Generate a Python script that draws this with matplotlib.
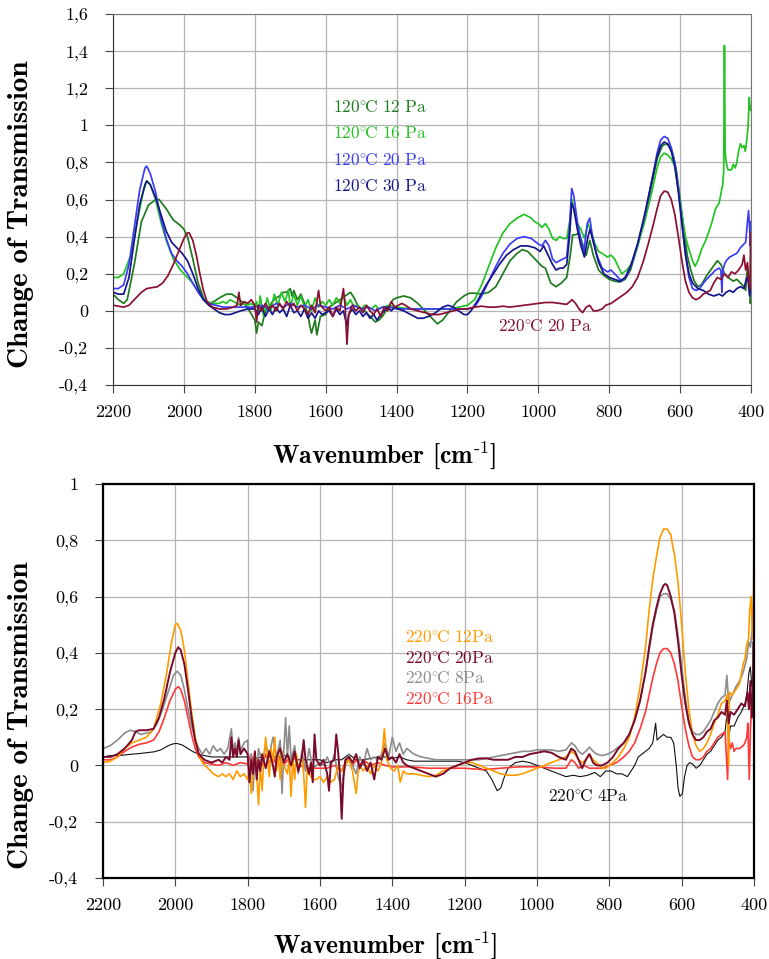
import matplotlib
matplotlib.use('Agg')
import matplotlib.pyplot as plt

plt.rcParams['font.family'] = ['cmr10', 'DejaVu Serif']
plt.rcParams['mathtext.fontset'] = 'cm'
plt.rcParams['axes.unicode_minus'] = False

# ---- top panel: (wavenumber, change of transmission) ----
t120_12 = [(2200, 0.09), (2185, 0.06), (2170, 0.04), (2160, 0.06), (2140, 0.25), (2120, 0.48), (2100, 0.57),
           (2080, 0.60), (2070, 0.60), (2050, 0.55), (2030, 0.49), (2010, 0.46), (2000, 0.44), (1990, 0.40),
           (1975, 0.28), (1960, 0.15), (1945, 0.07), (1930, 0.04), (1915, 0.05), (1900, 0.07), (1880, 0.09),
           (1865, 0.09), (1850, 0.07), (1830, 0.04), (1815, 0.0), (1800, -0.05), (1795, -0.12), (1790, -0.06),
           (1780, -0.08), (1770, 0.0), (1760, 0.02), (1750, 0.05), (1740, 0.07), (1730, 0.08), (1720, 0.10),
           (1710, 0.10), (1700, 0.12), (1695, 0.08), (1690, 0.11), (1680, 0.06), (1670, 0.09), (1660, 0.04),
           (1650, -0.02), (1645, -0.08), (1640, -0.12), (1630, -0.05), (1625, -0.13), (1615, -0.03),
           (1600, -0.02), (1590, 0.02), (1575, 0.04), (1560, 0.06), (1545, 0.08), (1530, 0.10), (1520, 0.07),
           (1510, 0.03), (1500, 0.01), (1490, 0.0), (1480, -0.02), (1470, -0.04), (1460, -0.06), (1450, -0.05),
           (1440, -0.03), (1430, 0.0), (1420, 0.03), (1410, 0.06), (1400, 0.07), (1380, 0.08), (1360, 0.07),
           (1340, 0.04), (1320, 0.0), (1300, -0.04), (1285, -0.07), (1270, -0.05), (1250, 0.0), (1230, 0.05),
           (1210, 0.08), (1195, 0.095), (1180, 0.095), (1160, 0.09), (1140, 0.10), (1120, 0.13), (1100, 0.20),
           (1080, 0.27), (1060, 0.31), (1045, 0.33), (1030, 0.32), (1010, 0.28), (990, 0.24), (980, 0.23),
           (965, 0.15), (950, 0.13), (935, 0.15), (920, 0.18), (910, 0.30), (903, 0.41), (895, 0.41),
           (885, 0.42), (875, 0.36), (865, 0.30), (855, 0.38), (845, 0.30), (830, 0.22), (815, 0.19),
           (800, 0.17), (785, 0.16), (770, 0.155), (755, 0.17), (740, 0.22), (720, 0.35), (700, 0.50),
           (680, 0.68), (665, 0.82), (650, 0.89), (640, 0.90), (630, 0.89), (620, 0.84), (610, 0.75),
           (600, 0.60), (590, 0.45), (580, 0.30), (570, 0.22), (560, 0.16), (550, 0.13), (540, 0.14),
           (525, 0.19), (510, 0.23), (495, 0.27), (485, 0.25), (475, 0.20), (465, 0.18), (450, 0.16),
           (440, 0.17), (430, 0.15), (420, 0.13), (415, 0.11), (410, 0.24), (405, 0.15), (402, 0.04), (400, 0.06)]

t120_16 = [(2200, 0.18), (2185, 0.18), (2170, 0.20), (2150, 0.30), (2130, 0.50), (2115, 0.64), (2105, 0.70),
           (2095, 0.68), (2080, 0.60), (2065, 0.48), (2050, 0.38), (2030, 0.28), (2010, 0.22), (1995, 0.19),
           (1980, 0.16), (1965, 0.12), (1950, 0.08), (1935, 0.05), (1920, 0.04), (1900, 0.04), (1890, 0.05),
           (1880, 0.04), (1870, 0.06), (1860, 0.05), (1850, 0.04), (1840, 0.03), (1830, 0.04), (1820, 0.03),
           (1810, 0.04), (1800, 0.02), (1795, 0.05), (1790, -0.02), (1785, 0.08), (1775, -0.03), (1765, 0.07),
           (1755, 0.0), (1745, 0.09), (1735, 0.03), (1725, 0.10), (1715, 0.05), (1705, 0.11), (1700, 0.02),
           (1690, 0.09), (1680, 0.03), (1670, 0.08), (1660, 0.02), (1650, 0.06), (1640, 0.0), (1630, 0.07),
           (1620, 0.02), (1610, 0.05), (1600, 0.03), (1590, 0.06), (1580, 0.03), (1570, 0.07), (1560, 0.04),
           (1550, 0.08), (1540, 0.03), (1530, 0.06), (1520, 0.02), (1510, 0.03), (1500, 0.01), (1490, 0.03),
           (1480, 0.02), (1470, 0.01), (1460, 0.03), (1450, 0.01), (1440, 0.02), (1420, 0.03), (1400, 0.02),
           (1380, 0.015), (1350, 0.01), (1300, 0.01), (1250, 0.01), (1200, 0.03), (1180, 0.06), (1160, 0.14),
           (1140, 0.24), (1120, 0.34), (1100, 0.42), (1080, 0.47), (1060, 0.50), (1040, 0.52), (1030, 0.51),
           (1020, 0.50), (1010, 0.48), (1000, 0.47), (990, 0.45), (980, 0.47), (970, 0.44), (960, 0.39),
           (950, 0.38), (940, 0.40), (930, 0.39), (920, 0.39), (910, 0.50), (905, 0.60), (900, 0.55),
           (890, 0.47), (880, 0.44), (870, 0.39), (860, 0.47), (850, 0.42), (840, 0.36), (830, 0.32),
           (820, 0.31), (805, 0.29), (795, 0.30), (785, 0.28), (775, 0.24), (765, 0.20), (750, 0.22),
           (735, 0.26), (720, 0.35), (700, 0.48), (680, 0.64), (665, 0.77), (655, 0.83), (645, 0.85),
           (635, 0.84), (625, 0.82), (615, 0.78), (605, 0.66), (595, 0.52), (585, 0.40), (575, 0.33),
           (565, 0.27), (558, 0.24), (550, 0.27), (540, 0.33), (530, 0.37), (520, 0.42), (510, 0.48),
           (500, 0.55), (490, 0.58), (485, 0.63), (480, 0.68), (477, 0.75), (475, 1.43), (473, 0.86),
           (470, 0.80), (465, 0.76), (455, 0.76), (450, 0.79), (445, 0.77), (440, 0.80), (435, 0.86),
           (430, 0.90), (425, 0.88), (420, 0.89), (416, 0.86), (412, 0.92), (408, 1.0), (405, 1.15),
           (402, 1.08), (400, 1.10)]

t120_20 = [(2200, 0.12), (2185, 0.12), (2170, 0.14), (2155, 0.25), (2140, 0.45), (2125, 0.65), (2110, 0.77),
           (2105, 0.78), (2095, 0.74), (2080, 0.64), (2065, 0.50), (2050, 0.39), (2035, 0.31), (2020, 0.27),
           (2005, 0.24), (1990, 0.20), (1975, 0.15), (1960, 0.10), (1945, 0.06), (1930, 0.04), (1910, 0.03),
           (1890, 0.02), (1870, 0.02), (1850, 0.02), (1800, 0.02), (1780, 0.03), (1760, 0.01), (1740, 0.04),
           (1720, 0.02), (1700, 0.04), (1680, 0.02), (1660, 0.03), (1640, 0.01), (1620, 0.03), (1600, 0.02),
           (1580, 0.01), (1560, 0.03), (1540, 0.01), (1520, 0.03), (1500, 0.01), (1480, 0.02), (1460, 0.0),
           (1440, 0.02), (1420, 0.02), (1400, 0.01), (1380, 0.01), (1350, 0.01), (1300, 0.01), (1250, 0.01),
           (1200, 0.01), (1180, 0.02), (1160, 0.08), (1140, 0.16), (1120, 0.24), (1100, 0.31), (1080, 0.36),
           (1060, 0.39), (1040, 0.40), (1020, 0.39), (1000, 0.36), (990, 0.35), (980, 0.38), (970, 0.35),
           (960, 0.28), (950, 0.26), (940, 0.27), (930, 0.28), (920, 0.29), (912, 0.45), (906, 0.66),
           (900, 0.62), (890, 0.48), (880, 0.38), (872, 0.31), (862, 0.47), (855, 0.50), (848, 0.41),
           (835, 0.30), (820, 0.23), (805, 0.21), (795, 0.22), (780, 0.19), (765, 0.16), (750, 0.19),
           (735, 0.26), (720, 0.36), (700, 0.51), (680, 0.70), (665, 0.85), (655, 0.92), (645, 0.94),
           (635, 0.93), (625, 0.88), (615, 0.80), (605, 0.66), (595, 0.48), (585, 0.30), (575, 0.18),
           (565, 0.12), (555, 0.11), (545, 0.12), (530, 0.16), (515, 0.19), (500, 0.22), (490, 0.23),
           (485, 0.22), (482, 0.10), (480, 0.21), (475, 0.25), (470, 0.27), (460, 0.29), (450, 0.30),
           (440, 0.31), (430, 0.34), (420, 0.36), (415, 0.37), (410, 0.48), (407, 0.54), (404, 0.45),
           (402, 0.35), (400, 0.48)]

t120_30 = [(2200, 0.10), (2185, 0.09), (2170, 0.09), (2155, 0.18), (2140, 0.38), (2125, 0.57), (2110, 0.68),
           (2105, 0.70), (2095, 0.68), (2080, 0.61), (2065, 0.52), (2050, 0.43), (2035, 0.37), (2020, 0.34),
           (2005, 0.31), (1990, 0.27), (1975, 0.20), (1960, 0.12), (1945, 0.06), (1930, 0.03), (1915, 0.01),
           (1900, -0.01), (1885, -0.02), (1870, -0.02), (1855, -0.01), (1840, 0.0), (1820, 0.01), (1800, 0.01),
           (1790, -0.02), (1780, 0.02), (1770, -0.03), (1760, 0.01), (1750, -0.02), (1740, 0.02), (1730, -0.01),
           (1720, 0.01), (1710, -0.03), (1700, 0.03), (1690, -0.01), (1680, 0.0), (1670, -0.03), (1660, 0.01),
           (1650, -0.04), (1640, -0.01), (1630, -0.04), (1620, 0.0), (1610, -0.02), (1600, -0.01), (1590, 0.0),
           (1580, -0.03), (1570, 0.01), (1560, -0.02), (1550, 0.0), (1540, -0.08), (1535, -0.02), (1525, 0.01),
           (1515, -0.02), (1505, 0.0), (1495, -0.03), (1485, -0.01), (1475, -0.04), (1465, -0.02),
           (1455, -0.05), (1445, -0.02), (1435, 0.0), (1425, 0.02), (1415, 0.0), (1405, 0.02), (1395, 0.01),
           (1380, 0.0), (1360, -0.02), (1340, -0.04), (1325, -0.04), (1310, -0.03), (1290, -0.01),
           (1270, 0.02), (1255, 0.03), (1240, 0.02), (1225, 0.0), (1210, -0.02), (1200, -0.02), (1190, 0.0),
           (1170, 0.06), (1150, 0.13), (1130, 0.19), (1110, 0.25), (1090, 0.30), (1070, 0.33), (1050, 0.35),
           (1030, 0.35), (1010, 0.34), (995, 0.32), (985, 0.35), (975, 0.31), (960, 0.25), (950, 0.22),
           (940, 0.23), (930, 0.23), (920, 0.25), (912, 0.40), (906, 0.58), (900, 0.55), (890, 0.44),
           (880, 0.35), (870, 0.29), (860, 0.40), (854, 0.44), (845, 0.37), (830, 0.26), (815, 0.20),
           (800, 0.18), (785, 0.17), (770, 0.16), (755, 0.18), (740, 0.24), (720, 0.36), (700, 0.52),
           (680, 0.70), (665, 0.83), (655, 0.89), (645, 0.91), (635, 0.90), (625, 0.86), (615, 0.78),
           (605, 0.64), (595, 0.47), (585, 0.31), (575, 0.20), (565, 0.15), (550, 0.12), (535, 0.11),
           (520, 0.09), (505, 0.08), (490, 0.09), (480, 0.08), (470, 0.10), (460, 0.11), (450, 0.10),
           (440, 0.12), (430, 0.13), (420, 0.12), (412, 0.18), (408, 0.16), (404, 0.08), (400, 0.12)]

t220_20 = [(2200, 0.03), (2185, 0.025), (2170, 0.02), (2155, 0.03), (2140, 0.06), (2120, 0.10), (2105, 0.12),
           (2090, 0.125), (2075, 0.13), (2060, 0.15), (2045, 0.19), (2030, 0.25), (2015, 0.32), (2000, 0.39),
           (1990, 0.42), (1985, 0.42), (1975, 0.38), (1965, 0.30), (1955, 0.20), (1945, 0.11), (1935, 0.05),
           (1920, 0.02), (1900, 0.01), (1880, 0.01), (1860, 0.02), (1850, 0.03), (1845, 0.10), (1840, 0.03),
           (1830, 0.05), (1820, 0.04), (1810, 0.06), (1800, 0.03), (1795, -0.06), (1790, 0.03), (1780, 0.0),
           (1770, 0.04), (1760, 0.01), (1750, 0.03), (1740, 0.0), (1730, 0.04), (1720, 0.01), (1710, 0.05),
           (1700, 0.02), (1690, 0.04), (1680, 0.0), (1670, 0.03), (1660, 0.01), (1650, -0.02), (1640, 0.03),
           (1630, -0.01), (1620, 0.11), (1615, 0.03), (1600, 0.0), (1590, 0.02), (1580, -0.03), (1570, 0.02),
           (1560, 0.0), (1550, 0.12), (1545, 0.02), (1540, -0.18), (1535, -0.02), (1525, 0.03), (1515, 0.0),
           (1505, 0.02), (1495, -0.01), (1485, 0.03), (1475, 0.0), (1465, -0.02), (1455, 0.01), (1445, -0.03),
           (1435, 0.02), (1425, 0.0), (1415, 0.05), (1405, 0.02), (1395, 0.03), (1385, 0.04), (1375, 0.03),
           (1360, 0.01), (1340, 0.0), (1320, -0.01), (1300, -0.02), (1280, -0.02), (1260, -0.01), (1240, 0.0),
           (1220, 0.01), (1200, 0.01), (1180, 0.02), (1160, 0.025), (1140, 0.02), (1120, 0.02), (1100, 0.025),
           (1080, 0.02), (1060, 0.025), (1040, 0.03), (1020, 0.035), (1000, 0.04), (980, 0.045), (960, 0.045),
           (940, 0.04), (920, 0.035), (905, 0.06), (895, 0.04), (885, 0.01), (875, -0.01), (865, 0.02),
           (855, 0.03), (845, 0.0), (835, 0.0), (820, 0.01), (810, 0.03), (795, 0.04), (780, 0.06),
           (765, 0.08), (750, 0.10), (735, 0.13), (720, 0.18), (705, 0.26), (690, 0.36), (675, 0.47),
           (665, 0.55), (655, 0.62), (645, 0.645), (635, 0.64), (625, 0.60), (615, 0.52), (605, 0.40),
           (595, 0.27), (585, 0.16), (575, 0.10), (565, 0.07), (555, 0.06), (545, 0.07), (535, 0.09),
           (525, 0.10), (515, 0.11), (505, 0.15), (495, 0.18), (485, 0.17), (475, 0.20), (465, 0.18),
           (455, 0.21), (445, 0.20), (435, 0.22), (425, 0.25), (420, 0.30), (415, 0.22), (410, 0.26),
           (406, 0.15), (403, 0.12), (401, 0.42), (400, 0.30)]

# ---- bottom panel ----
b220_12 = [(2200, 0.01), (2180, 0.015), (2160, 0.03), (2140, 0.06), (2120, 0.08), (2100, 0.09), (2080, 0.10),
           (2060, 0.13), (2040, 0.22), (2025, 0.32), (2010, 0.44), (2000, 0.50), (1995, 0.505), (1985, 0.48),
           (1975, 0.41), (1965, 0.30), (1955, 0.19), (1945, 0.10), (1935, 0.04), (1925, 0.01), (1910, -0.01),
           (1895, -0.03), (1880, -0.04), (1870, -0.03), (1860, -0.04), (1850, -0.03), (1840, -0.05),
           (1830, -0.02), (1820, -0.04), (1810, -0.03), (1800, -0.05), (1795, 0.0), (1790, -0.10),
           (1785, -0.02), (1780, 0.05), (1775, -0.03), (1770, -0.14), (1765, 0.0), (1760, -0.09), (1755, 0.03),
           (1750, 0.10), (1745, 0.02), (1740, -0.04), (1735, 0.06), (1730, 0.01), (1725, 0.10), (1720, -0.02),
           (1715, 0.04), (1710, -0.05), (1705, 0.05), (1700, 0.0), (1690, -0.03), (1685, 0.03), (1680, -0.11),
           (1675, 0.02), (1670, -0.05), (1665, 0.04), (1660, -0.01), (1650, 0.03), (1645, -0.03),
           (1640, -0.15), (1635, 0.0), (1630, -0.03), (1620, -0.05), (1610, -0.05), (1600, -0.04),
           (1590, -0.06), (1580, -0.04), (1570, -0.06), (1560, -0.05), (1550, 0.0), (1540, -0.02), (1530, 0.0),
           (1520, 0.02), (1510, -0.02), (1500, -0.10), (1495, -0.03), (1490, 0.0), (1480, -0.02), (1470, 0.0),
           (1460, -0.03), (1450, 0.0), (1440, -0.02), (1430, 0.01), (1422, 0.13), (1415, 0.02), (1405, -0.01),
           (1395, -0.02), (1385, 0.0), (1378, -0.06), (1370, -0.02), (1360, -0.03), (1340, -0.03),
           (1320, -0.035), (1300, -0.04), (1280, -0.035), (1260, -0.02), (1240, -0.01), (1220, 0.0),
           (1200, 0.01), (1180, 0.01), (1160, 0.0), (1140, -0.01), (1120, -0.02), (1100, -0.03),
           (1080, -0.035), (1060, -0.035), (1040, -0.03), (1020, -0.02), (1000, -0.01), (980, 0.0),
           (960, 0.01), (940, 0.02), (920, 0.03), (905, 0.05), (895, 0.04), (885, 0.02), (875, 0.01),
           (865, 0.02), (855, 0.04), (845, 0.02), (835, 0.01), (820, -0.01), (810, -0.01), (800, 0.0),
           (790, 0.01), (775, 0.03), (760, 0.06), (745, 0.10), (730, 0.17), (715, 0.28), (700, 0.42),
           (690, 0.55), (680, 0.66), (670, 0.74), (660, 0.81), (650, 0.84), (640, 0.84), (630, 0.82),
           (625, 0.78), (620, 0.75), (610, 0.65), (600, 0.50), (590, 0.33), (580, 0.20), (570, 0.11),
           (560, 0.07), (550, 0.05), (540, 0.06), (530, 0.08), (520, 0.11), (510, 0.15), (500, 0.18),
           (490, 0.22), (480, 0.23), (475, 0.25), (470, 0.0), (468, 0.26), (460, 0.25), (450, 0.27),
           (440, 0.29), (430, 0.36), (425, 0.38), (420, 0.43), (415, 0.45), (412, 0.55), (408, 0.60),
           (404, 0.45), (402, 0.55), (400, 0.80)]

b220_20 = [(2200, 0.03), (2180, 0.03), (2160, 0.04), (2140, 0.06), (2120, 0.09), (2110, 0.12), (2100, 0.125),
           (2080, 0.125), (2060, 0.13), (2045, 0.17), (2030, 0.24), (2015, 0.33), (2000, 0.40), (1992, 0.42),
           (1985, 0.41), (1975, 0.36), (1965, 0.27), (1955, 0.17), (1945, 0.09), (1935, 0.04), (1920, 0.02),
           (1900, 0.01), (1880, 0.02), (1870, 0.01), (1860, 0.03), (1850, 0.02), (1845, 0.10), (1840, 0.03),
           (1835, 0.06), (1830, 0.03), (1825, 0.09), (1820, 0.04), (1810, 0.06), (1800, 0.04), (1795, -0.06),
           (1790, 0.02), (1785, -0.03), (1780, 0.05), (1775, -0.05), (1770, 0.02), (1765, -0.02), (1760, 0.04),
           (1750, -0.01), (1740, 0.05), (1730, 0.0), (1725, -0.04), (1720, 0.03), (1710, 0.06), (1700, 0.01),
           (1690, 0.04), (1680, 0.0), (1670, 0.05), (1660, -0.02), (1650, 0.03), (1645, 0.09), (1640, 0.02),
           (1630, -0.03), (1625, 0.01), (1620, -0.06), (1615, 0.11), (1610, 0.02), (1600, 0.0), (1590, 0.02),
           (1580, -0.03), (1575, -0.09), (1570, 0.01), (1560, 0.02), (1555, 0.11), (1550, 0.05), (1545, -0.03),
           (1540, -0.19), (1535, -0.04), (1530, 0.02), (1520, 0.03), (1510, 0.01), (1500, 0.04), (1490, -0.01),
           (1480, 0.02), (1470, -0.02), (1460, 0.01), (1450, -0.05), (1440, 0.03), (1430, 0.02), (1420, 0.06),
           (1410, 0.02), (1400, 0.03), (1390, 0.01), (1380, 0.04), (1370, 0.01), (1360, 0.0), (1340, -0.01),
           (1320, -0.02), (1300, -0.03), (1280, -0.04), (1260, -0.03), (1240, -0.01), (1220, 0.0),
           (1200, 0.01), (1180, 0.02), (1160, 0.025), (1140, 0.025), (1120, 0.02), (1100, 0.02), (1080, 0.02),
           (1060, 0.03), (1040, 0.03), (1020, 0.04), (1000, 0.045), (980, 0.05), (960, 0.045), (940, 0.03),
           (920, 0.02), (905, 0.06), (895, 0.05), (885, 0.02), (875, -0.01), (865, 0.02), (855, 0.04),
           (845, 0.01), (835, 0.0), (820, 0.0), (805, 0.01), (790, 0.03), (775, 0.06), (760, 0.08),
           (745, 0.11), (730, 0.16), (715, 0.23), (700, 0.33), (690, 0.42), (680, 0.50), (670, 0.56),
           (660, 0.61), (650, 0.64), (645, 0.645), (640, 0.64), (630, 0.60), (620, 0.54), (610, 0.44),
           (600, 0.32), (590, 0.22), (580, 0.15), (570, 0.11), (560, 0.09), (550, 0.09), (540, 0.10),
           (530, 0.12), (520, 0.13), (510, 0.16), (500, 0.17), (490, 0.19), (480, 0.18), (475, 0.23),
           (470, 0.15), (465, 0.19), (455, 0.18), (445, 0.20), (435, 0.22), (425, 0.21), (418, 0.26),
           (414, 0.20), (410, 0.30), (406, 0.17), (403, 0.25), (401, 0.44), (400, 0.15)]

b220_8 = [(2200, 0.06), (2180, 0.07), (2160, 0.09), (2140, 0.115), (2125, 0.125), (2110, 0.12), (2095, 0.11),
          (2080, 0.115), (2065, 0.12), (2050, 0.15), (2035, 0.20), (2020, 0.26), (2005, 0.32), (1995, 0.335),
          (1985, 0.32), (1975, 0.27), (1965, 0.20), (1955, 0.14), (1945, 0.09), (1935, 0.06), (1925, 0.04),
          (1915, 0.06), (1905, 0.04), (1895, 0.07), (1885, 0.05), (1875, 0.06), (1865, 0.04), (1855, 0.06),
          (1845, 0.13), (1840, 0.05), (1835, 0.08), (1830, 0.05), (1825, 0.10), (1820, 0.05), (1810, 0.08),
          (1800, 0.09), (1795, -0.06), (1790, 0.04), (1785, -0.09), (1780, 0.04), (1775, -0.04), (1770, 0.06),
          (1760, 0.01), (1750, 0.07), (1740, 0.04), (1730, 0.10), (1720, 0.03), (1710, 0.09), (1705, -0.10),
          (1700, 0.05), (1695, 0.17), (1690, 0.03), (1685, 0.14), (1680, 0.02), (1670, 0.07), (1660, -0.03),
          (1650, 0.05), (1640, -0.02), (1630, 0.06), (1620, -0.01), (1610, 0.0), (1600, 0.01), (1590, 0.0),
          (1580, 0.03), (1570, 0.0), (1560, 0.04), (1550, -0.04), (1540, -0.08), (1530, 0.0), (1520, 0.04),
          (1510, 0.0), (1500, -0.03), (1490, 0.03), (1480, 0.0), (1470, 0.06), (1460, 0.02), (1450, 0.03),
          (1440, 0.02), (1430, 0.04), (1420, 0.08), (1410, 0.03), (1400, 0.10), (1390, 0.05), (1380, 0.08),
          (1370, 0.04), (1360, 0.06), (1340, 0.04), (1320, 0.03), (1300, 0.025), (1280, 0.02), (1260, 0.02),
          (1240, 0.02), (1220, 0.02), (1200, 0.02), (1180, 0.02), (1160, 0.02), (1140, 0.025), (1120, 0.03),
          (1100, 0.035), (1080, 0.04), (1060, 0.045), (1040, 0.05), (1020, 0.05), (1000, 0.055), (980, 0.055),
          (960, 0.055), (940, 0.05), (920, 0.055), (905, 0.08), (895, 0.07), (885, 0.05), (875, 0.04),
          (865, 0.05), (855, 0.065), (845, 0.05), (835, 0.04), (820, 0.035), (805, 0.04), (790, 0.05),
          (775, 0.065), (760, 0.08), (745, 0.11), (730, 0.16), (715, 0.23), (700, 0.33), (690, 0.41),
          (680, 0.49), (670, 0.55), (660, 0.60), (650, 0.61), (640, 0.61), (630, 0.59), (620, 0.55),
          (610, 0.46), (600, 0.35), (590, 0.24), (580, 0.16), (570, 0.12), (560, 0.11), (550, 0.11),
          (540, 0.12), (530, 0.14), (520, 0.16), (510, 0.19), (500, 0.22), (490, 0.24), (480, 0.25),
          (475, 0.32), (470, 0.22), (460, 0.25), (450, 0.28), (440, 0.30), (430, 0.33), (420, 0.38),
          (415, 0.44), (410, 0.42), (405, 0.48), (402, 0.55), (400, 0.62)]

b220_16 = [(2200, 0.02), (2180, 0.02), (2160, 0.03), (2140, 0.05), (2120, 0.065), (2100, 0.075), (2080, 0.08),
           (2060, 0.09), (2045, 0.12), (2030, 0.17), (2015, 0.23), (2000, 0.27), (1992, 0.28), (1985, 0.27),
           (1975, 0.23), (1965, 0.17), (1955, 0.11), (1945, 0.06), (1935, 0.03), (1920, 0.01), (1900, 0.005),
           (1880, 0.0), (1860, 0.01), (1840, 0.0), (1820, 0.01), (1800, 0.005), (1790, 0.04), (1785, 0.0),
           (1770, 0.02), (1760, 0.0), (1750, 0.04), (1740, 0.01), (1730, 0.03), (1720, 0.0), (1710, 0.03),
           (1700, 0.0), (1690, 0.02), (1680, 0.0), (1670, 0.03), (1660, -0.01), (1650, 0.0), (1640, -0.01),
           (1620, -0.01), (1600, -0.01), (1580, -0.01), (1560, 0.0), (1540, -0.02), (1530, 0.01), (1520, 0.03),
           (1510, 0.0), (1500, 0.02), (1490, 0.0), (1480, 0.02), (1460, 0.0), (1440, 0.01), (1420, 0.0),
           (1400, -0.005), (1380, -0.005), (1350, -0.005), (1300, -0.01), (1250, -0.01), (1200, -0.01),
           (1150, -0.015), (1100, -0.01), (1050, -0.005), (1000, -0.005), (950, -0.01), (920, -0.01),
           (905, 0.02), (895, 0.01), (885, -0.01), (870, 0.0), (855, -0.01), (840, -0.01), (820, -0.01),
           (800, 0.0), (780, 0.01), (760, 0.03), (745, 0.05), (730, 0.08), (715, 0.13), (700, 0.19),
           (690, 0.25), (680, 0.31), (670, 0.36), (660, 0.40), (650, 0.415), (640, 0.415), (630, 0.40),
           (620, 0.36), (610, 0.30), (600, 0.21), (590, 0.13), (580, 0.07), (570, 0.03), (560, 0.02),
           (550, 0.02), (540, 0.03), (530, 0.05), (520, 0.06), (510, 0.08), (500, 0.10), (490, 0.11),
           (480, 0.12), (473, -0.05), (470, 0.10), (465, 0.06), (460, 0.08), (455, 0.05), (450, 0.06),
           (440, 0.06), (430, 0.07), (425, 0.08), (420, 0.10), (417, 0.15), (413, -0.05), (410, 0.12),
           (406, 0.25), (403, 0.20), (400, 0.15)]

b220_4 = [(2200, 0.03), (2180, 0.035), (2160, 0.035), (2140, 0.037), (2120, 0.04), (2100, 0.042), (2080, 0.045),
          (2060, 0.048), (2040, 0.055), (2020, 0.07), (2005, 0.077), (1995, 0.078), (1980, 0.072), (1965, 0.06),
          (1950, 0.048), (1935, 0.04), (1920, 0.035), (1900, 0.03), (1880, 0.03), (1860, 0.03), (1840, 0.03),
          (1820, 0.03), (1800, 0.03), (1780, 0.025), (1760, 0.03), (1740, 0.03), (1720, 0.03), (1700, 0.035),
          (1680, 0.03), (1660, 0.02), (1640, 0.02), (1620, 0.02), (1600, 0.02), (1580, 0.01), (1560, 0.02),
          (1540, 0.02), (1520, 0.04), (1500, 0.02), (1480, 0.02), (1460, 0.025), (1440, 0.03), (1420, 0.03),
          (1400, 0.025), (1380, 0.03), (1360, 0.02), (1340, 0.015), (1320, 0.015), (1300, 0.015),
          (1280, 0.015), (1260, 0.015), (1240, 0.015), (1220, 0.015), (1200, 0.01), (1180, 0.0),
          (1160, -0.01), (1140, -0.02), (1125, -0.05), (1110, -0.09), (1100, -0.08), (1090, -0.04),
          (1080, -0.01), (1060, 0.01), (1040, 0.015), (1020, 0.01), (1000, 0.0), (980, -0.01), (960, -0.02),
          (940, -0.03), (920, -0.04), (900, -0.035), (880, -0.04), (860, -0.035), (840, -0.025),
          (825, -0.04), (810, -0.02), (795, -0.02), (780, -0.03), (765, -0.03), (750, -0.04), (740, -0.02),
          (730, 0.0), (720, 0.03), (710, 0.04), (700, 0.05), (690, 0.06), (680, 0.08), (672, 0.15),
          (668, 0.09), (660, 0.10), (650, 0.11), (640, 0.10), (630, 0.10), (622, 0.08), (615, 0.0),
          (610, -0.08), (605, -0.11), (598, -0.10), (592, -0.04), (585, 0.0), (578, 0.01), (570, 0.005),
          (560, -0.01), (550, 0.0), (540, 0.02), (530, 0.04), (520, 0.05), (510, 0.07), (500, 0.09),
          (490, 0.10), (480, 0.12), (475, 0.18), (470, 0.10), (465, 0.14), (455, 0.14), (445, 0.17),
          (435, 0.19), (425, 0.22), (420, 0.25), (414, 0.33), (410, 0.35), (406, 0.28), (402, 0.30),
          (400, 0.30)]

top_series = [(t120_12, '#1f7a1f'), (t120_16, '#22c322'), (t120_20, '#3c3cf5'),
              (t120_30, '#16168a'), (t220_20, '#8a1030')]
bottom_series = [(b220_4, '#111111', 0.8), (b220_16, '#ff3838', 1.2), (b220_8, '#8c8c8c', 1.2),
                 (b220_12, '#ff9a00', 1.2), (b220_20, '#7a0a2a', 1.4)]

x_ticks = [2200, 2000, 1800, 1600, 1400, 1200, 1000, 800, 600, 400]
top_yticks = [-0.4, -0.2, 0, 0.2, 0.4, 0.6, 0.8, 1.0, 1.2, 1.4, 1.6]
top_ylabels = ['-0,4', '-0,2', '0', '0,2', '0,4', '0,6', '0,8', '1', '1,2', '1,4', '1,6']
bot_yticks = [-0.4, -0.2, 0, 0.2, 0.4, 0.6, 0.8, 1.0]
bot_ylabels = ['-0,4', '-0,2', '0', '0,2', '0,4', '0,6', '0,8', '1']


def series_label(temp, rest):
    # TeX-like label, e.g. 120°C 12 Pa
    return r'$\mathrm{' + temp + r'^{\circ}\!C\ ' + rest.replace(' ', r'\ ') + '}$'


fig = plt.figure(figsize=(7.69, 9.59), dpi=100)
ax1 = fig.add_axes([0.147, 0.5985, 0.8296, 0.3869])
ax2 = fig.add_axes([0.1339, 0.0845, 0.8466, 0.4108])

xlab = r'Wavenumber [cm$^{\mathbf{\text{-}1}}$]'
ylab = 'Change of Transmission'


def style_axes(ax, yticks, ylabels, ymin, ymax):
    ax.set_xlim(2200, 400)
    ax.set_ylim(ymin, ymax)
    ax.set_xticks(x_ticks)
    ax.set_xticklabels([str(t) for t in x_ticks])
    ax.set_yticks(yticks)
    ax.set_yticklabels(ylabels)
    ax.grid(True, color='#b4b4b4', lw=0.9)
    ax.set_axisbelow(True)
    ax.tick_params(direction='out', length=6, width=0.8, color='#444444', labelsize=13)
    ax.tick_params(axis='y', pad=12)
    ax.tick_params(axis='x', pad=8)
    ax.set_xlabel(xlab, fontsize=18.5, family='cmb10')
    ax.set_ylabel(ylab, fontsize=21, family='cmb10')


for pts, col in top_series:
    wn, val = zip(*pts)
    ax1.plot(wn, val, color=col, lw=1.25)
style_axes(ax1, top_yticks, top_ylabels, -0.4, 1.6)
for side in ['top', 'right']:
    ax1.spines[side].set_color('#777777')
for side in ['left', 'bottom']:
    ax1.spines[side].set_color('#333333')
ax1.xaxis.set_label_coords((384 - 113) / 638, -(439 - 385) / 371)
ax1.yaxis.set_label_coords(-(113 - 34) / 638, (385 - 214) / 371)

top_names = [(series_label('120', '12 Pa'), '#1f7a1f', 108), (series_label('120', '16 Pa'), '#22c322', 134),
             (series_label('120', '20 Pa'), '#3c3cf5', 161), (series_label('120', '30 Pa'), '#16168a', 187)]
for txt, col, ypix in top_names:
    fig.text(333 / 769, 1 - ypix / 959, txt, color=col, fontsize=12.5, va='center', ha='left')
fig.text(498 / 769, 1 - 327 / 959, series_label('220', '20 Pa'), color='#8a1030', fontsize=12.5,
         va='center', ha='left')

for pts, col, lw in bottom_series:
    wn, val = zip(*pts)
    ax2.plot(wn, val, color=col, lw=lw)
style_axes(ax2, bot_yticks, bot_ylabels, -0.4, 1.0)
for side in ax2.spines:
    ax2.spines[side].set_color('black')
    ax2.spines[side].set_linewidth(1.6)
ax2.xaxis.set_label_coords((385 - 103) / 651, -(929 - 878) / 394)
ax2.yaxis.set_label_coords(-(103 - 34) / 651, (878 - 715) / 394)

bot_names = [(series_label('220', '12Pa'), '#ff9a00', 638), (series_label('220', '20Pa'), '#7a0a2a', 659),
             (series_label('220', '8Pa'), '#8c8c8c', 679), (series_label('220', '16Pa'), '#ff3838', 700)]
for txt, col, ypix in bot_names:
    fig.text(405 / 769, 1 - ypix / 959, txt, color=col, fontsize=12.5, va='center', ha='left')
fig.text(548 / 769, 1 - 797 / 959, series_label('220', '4Pa'), color='#111111', fontsize=12.5,
         va='center', ha='left')

fig.savefig('out.png', dpi=100)
